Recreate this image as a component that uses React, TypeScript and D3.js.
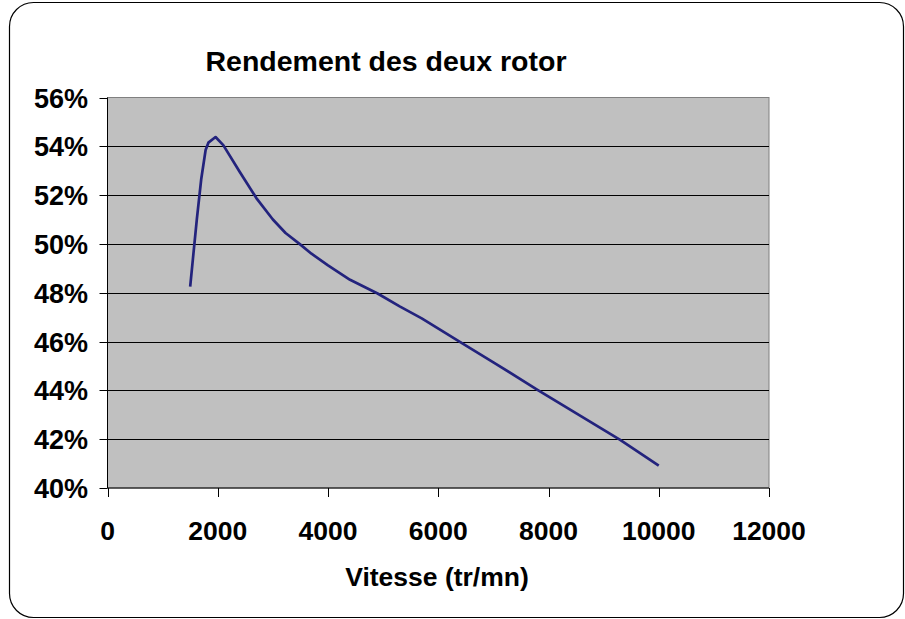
import React from "react";
import * as d3 from "d3";

const speeds = [1500, 1550, 1620, 1700, 1780, 1830, 1960, 2100, 2400, 2700, 3000, 3230, 3500, 3700, 4000, 4400, 4900, 5300, 5700, 6400, 7000, 7800, 9300, 10000];
const efficiency = [48.25, 49.4, 51.0, 52.65, 53.85, 54.15, 54.38, 54.05, 52.95, 51.88, 51.0, 50.45, 49.97, 49.6, 49.12, 48.53, 47.97, 47.44, 46.95, 45.98, 45.15, 44.02, 41.97, 40.92];
const yTicks = [40, 42, 44, 46, 48, 50, 52, 54, 56];
const xTicks = [0, 2000, 4000, 6000, 8000, 10000, 12000];
const title = "Rendement des deux rotor";
const xLabel = "Vitesse (tr/mn)";

export default function App() {
  const W = 905, H = 619;
  const left = 107.5, right = 769, top = 97.5, bottom = 488;
  const x = d3.scaleLinear().domain([0, 12000]).range([left, right]);
  const y = d3.scaleLinear().domain([40, 56]).range([bottom, top]);
  const pts = speeds.map((s, i) => [s, efficiency[i]] as [number, number]);
  const line = d3.line<[number, number]>().x(d => x(d[0])).y(d => y(d[1]));
  const font = "'Liberation Sans', Arial, sans-serif";
  return (
    <div style={{ position: "absolute", left: 0, top: 0 }}>
      <svg width={W} height={H} style={{ display: "block" }}>
        <rect x={0} y={0} width={W} height={H} fill="#fff" />
        <rect x={9.5} y={2.5} width={894} height={615} rx={24} ry={24} fill="#fff" stroke="#000" strokeWidth={1.2} />
        <text x={386} y={71} textAnchor="middle" fontFamily={font} fontWeight="bold" fontSize={28.5}>{title}</text>
        <rect x={left} y={top} width={right - left} height={bottom - top} fill="#c0c0c0" stroke="#808080" strokeWidth={1} />
        {yTicks.map(t => (
          <g key={"y" + t}>
            {t !== 40 && t !== 56 && <line x1={left} x2={right} y1={Math.round(y(t)) + 0.5} y2={Math.round(y(t)) + 0.5} stroke="#000" strokeWidth={1} />}
            <line x1={left - 8} x2={left} y1={Math.round(y(t)) + 0.5} y2={Math.round(y(t)) + 0.5} stroke="#000" strokeWidth={1} />
            <text x={88} y={y(t) + 10} textAnchor="end" fontFamily={font} fontWeight="bold" fontSize={27}>{t}%</text>
          </g>
        ))}
        {xTicks.map(t => (
          <g key={"x" + t}>
            <line x1={Math.round(x(t)) + 0.5} x2={Math.round(x(t)) + 0.5} y1={bottom} y2={bottom + 9} stroke="#000" strokeWidth={1} />
            <text x={x(t)} y={540} textAnchor="middle" fontFamily={font} fontWeight="bold" fontSize={26.5}>{t}</text>
          </g>
        ))}
        <line x1={left} x2={left} y1={top} y2={bottom} stroke="#000" strokeWidth={1} />
        <line x1={left} x2={right} y1={bottom} y2={bottom} stroke="#000" strokeWidth={1} />
        <path d={line(pts) || ""} fill="none" stroke="#23237d" strokeWidth={2.7} strokeLinejoin="round" />
        <text x={437} y={586} textAnchor="middle" fontFamily={font} fontWeight="bold" fontSize={26.5}>{xLabel}</text>
      </svg>
    </div>
  );
}
